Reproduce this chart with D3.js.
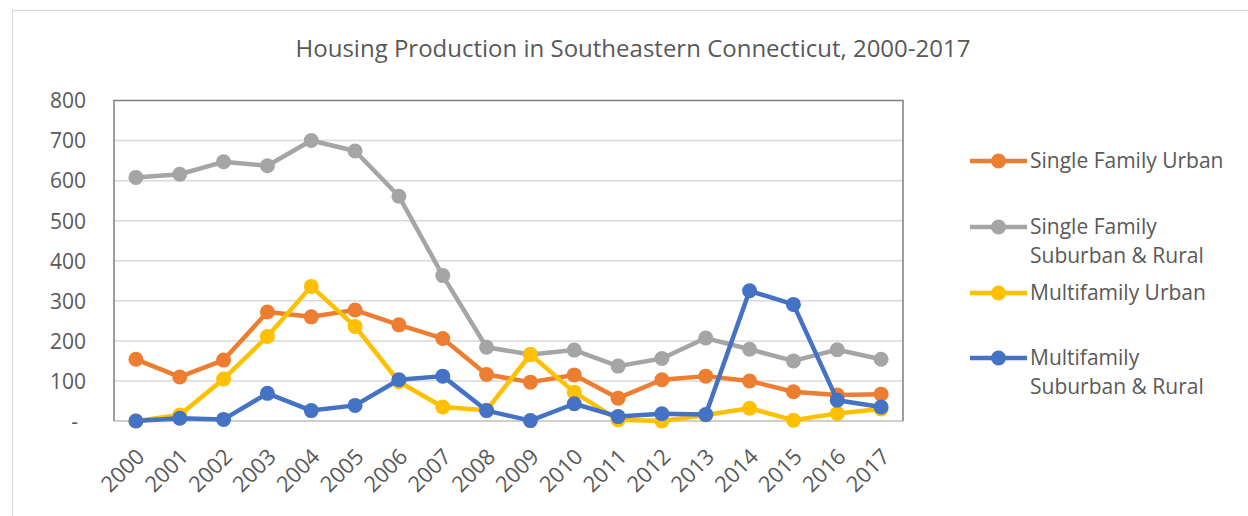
<!DOCTYPE html>
<html>
<head>
<meta charset="utf-8">
<script src="https://cdn.jsdelivr.net/npm/d3@7"></script>
<style>
  body { margin: 0; background: #fff; }
  svg text { font-family: "Open Sans", sans-serif; fill: #595959; }
</style>
</head>
<body>
<svg id="chart"></svg>
<script>
// Chart size
const width = 1248, height = 516;

// Data
const years = ["2000", "2001", "2002", "2003", "2004", "2005", "2006", "2007", "2008",
  "2009", "2010", "2011", "2012", "2013", "2014", "2015", "2016", "2017"];
const singleUrban = [154, 110, 152, 272, 260, 277, 240, 206, 116, 97, 115, 57, 103, 112, 100, 73, 65, 67];
const singleSuburban = [608, 616, 647, 637, 700, 674, 561, 363, 184, 166, 177, 137, 156, 207, 179, 150, 178, 154];
const multiUrban = [0, 15, 105, 211, 336, 236, 98, 35, 27, 166, 72, 3, 0, 15, 32, 2, 19, 30];
const multiSuburban = [0, 7, 4, 69, 26, 39, 103, 112, 26, 1, 43, 11, 18, 16, 325, 291, 52, 35];
const yTicks = [0, 100, 200, 300, 400, 500, 600, 700, 800];

const seriesNames = ["Single Family Urban", "Single Family Suburban & Rural", "Multifamily Urban", "Multifamily Suburban & Rural"];
const legendLines = [["Single Family Urban"], ["Single Family", "Suburban & Rural"], ["Multifamily Urban"], ["Multifamily", "Suburban & Rural"]];
const colors = ["#ED7D31", "#A5A5A5", "#FFC000", "#4472C4"];

const series = [singleUrban, singleSuburban, multiUrban, multiSuburban].map((vals, i) => ({
  name: seriesNames[i],
  color: colors[i],
  values: vals.map((v, j) => ({ year: years[j], value: v }))
}));

// Plot area
const plot = { left: 114, right: 903, top: 100.5, bottom: 421 };

const svg = d3.select("#chart")
  .attr("width", width)
  .attr("height", height);

// outer chart border (only top and left visible)
svg.append("rect")
  .attr("x", 12.5).attr("y", 10.5)
  .attr("width", 1260).attr("height", 520)
  .attr("fill", "none")
  .attr("stroke", "#d9d9d9")
  .attr("stroke-width", 1.2);

const x = d3.scaleBand()
  .domain(years)
  .range([plot.left, plot.right]);

const y = d3.scaleLinear()
  .domain([0, 800])
  .range([plot.bottom, plot.top]);

// Title
svg.append("text")
  .attr("x", 633)
  .attr("y", 57)
  .attr("text-anchor", "middle")
  .style("font-size", "24px")
  .text("Housing Production in Southeastern Connecticut, 2000-2017");

// Gridlines
svg.append("g")
  .selectAll("line")
  .data(yTicks.slice(1, -1))
  .join("line")
  .attr("x1", plot.left).attr("x2", plot.right)
  .attr("y1", d => y(d)).attr("y2", d => y(d))
  .attr("stroke", "#d9d9d9")
  .attr("stroke-width", 1.5);

// Bottom axis line
svg.append("line")
  .attr("x1", plot.left).attr("x2", plot.right)
  .attr("y1", y(0)).attr("y2", y(0))
  .attr("stroke", "#bfbfbf")
  .attr("stroke-width", 1.5);

// Plot border: top, left, right
svg.append("path")
  .attr("d", `M${plot.left},${plot.bottom} V${plot.top} H${plot.right} V${plot.bottom}`)
  .attr("fill", "none")
  .attr("stroke", "#7f7f7f")
  .attr("stroke-width", 1.5);

// Y axis labels
const yAxis = d3.axisLeft(y)
  .tickValues(yTicks)
  .tickSize(0)
  .tickPadding(28)
  .tickFormat(d => d === 0 ? "-" : d);

svg.append("g")
  .attr("transform", `translate(${plot.left},0)`)
  .call(yAxis)
  .call(g => g.select(".domain").remove())
  .call(g => g.selectAll("text").style("font-size", "21px").attr("dy", "0.35em"))
  .call(g => g.selectAll(".tick").filter(d => d === 0).select("text").attr("x", -36));

// X axis labels, rotated
const xAxis = d3.axisBottom(x).tickSize(0).tickPadding(0);
svg.append("g")
  .attr("transform", `translate(0,${plot.bottom})`)
  .call(xAxis)
  .call(g => g.select(".domain").remove())
  .call(g => g.selectAll("text")
    .style("font-size", "22px")
    .attr("text-anchor", "end")
    .attr("dy", "0")
    .attr("transform", "translate(10,37) rotate(-45)"));

// Lines and markers
const line = d3.line()
  .x(d => x(d.year) + x.bandwidth() / 2)
  .y(d => y(d.value));

const sg = svg.append("g")
  .selectAll("g")
  .data(series)
  .join("g");

sg.append("path")
  .attr("d", d => line(d.values))
  .attr("fill", "none")
  .attr("stroke", d => d.color)
  .attr("stroke-width", 4.5)
  .attr("stroke-linejoin", "round");

sg.selectAll("circle")
  .data(d => d.values.map(v => ({ ...v, color: d.color })))
  .join("circle")
  .attr("cx", d => x(d.year) + x.bandwidth() / 2)
  .attr("cy", d => y(d.value))
  .attr("r", 7.5)
  .attr("fill", d => d.color);

// Legend
const legendRowY = [161, 227, 293, 358];
const legend = svg.append("g")
  .selectAll("g")
  .data(series)
  .join("g")
  .attr("transform", (d, i) => `translate(970,${legendRowY[i]})`);

legend.append("line")
  .attr("x1", 0).attr("x2", 57)
  .attr("stroke", d => d.color)
  .attr("stroke-width", 4.5);

legend.append("circle")
  .attr("cx", 28.5)
  .attr("r", 7.5)
  .attr("fill", d => d.color);

legend.append("text")
  .attr("x", 60)
  .style("font-size", "21px")
  .selectAll("tspan")
  .data((d, i) => legendLines[i])
  .join("tspan")
  .attr("x", 60)
  .attr("y", (d, i) => i * 29)
  .attr("dy", "0.35em")
  .text(d => d);
</script>
</body>
</html>
